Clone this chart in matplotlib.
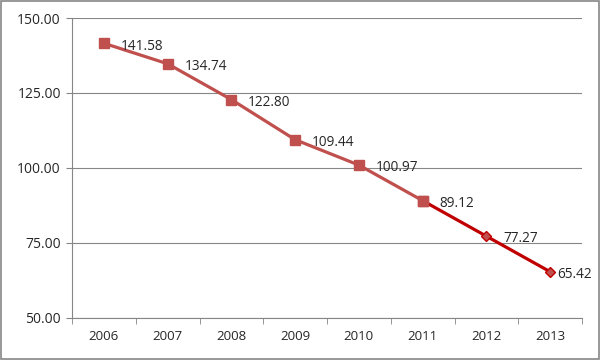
import matplotlib
matplotlib.use("Agg")
from matplotlib import pyplot as plt
from matplotlib.patches import Rectangle
import numpy as np

years = ["2006", "2007", "2008", "2009", "2010", "2011", "2012", "2013"]
values = [141.58, 134.74, 122.80, 109.44, 100.97, 89.12, 77.27, 65.42]
split = 5  # index of 2011, where the darker projection segment starts
y_ticks = [50, 75, 100, 125, 150]

plt.rcParams['font.family'] = ['Open Sans', 'DejaVu Sans']

fig = plt.figure(figsize=(6, 3.6), dpi=100)
ax = fig.add_axes([0.12, 0.1167, 0.85, 0.8333])

x = np.arange(len(years))
ax.plot(x[:split + 1], values[:split + 1], color='#C0504D', lw=2.3,
        marker='s', ms=7, zorder=3)
ax.plot(x[split:], values[split:], color='#C00000', lw=2.3, zorder=3)
ax.plot(x[split + 1:], values[split + 1:], color='#C0504D', lw=0,
        marker='D', ms=5.5, mec='#C00000', mew=1, zorder=4)
ax.plot(x[split], values[split], color='#C0504D', marker='s', ms=7, zorder=5)

for i, (xi, v) in enumerate(zip(x, values)):
    # the last label is pulled in so it fits inside the chart, as in the original
    dx = 5 if i == len(values) - 1 else 12
    ax.annotate(f"{v:.2f}", (xi, v), xytext=(dx, -2), textcoords='offset points',
                va='center', ha='left', fontsize=9.8, color='#262626',
                annotation_clip=False)

ax.set_xlim(-0.5, len(years) - 0.5)
ax.set_ylim(50, 150)
ax.set_yticks(y_ticks)
ax.set_yticklabels([f"{t:.2f}" for t in y_ticks], fontsize=10, color='#262626')
ax.set_xticks(x)
ax.set_xticklabels(years, fontsize=9.5, color='#262626')
ax.set_xticks(np.arange(-0.5, len(years)), minor=True)
ax.tick_params(axis='x', which='major', length=0, pad=9)
ax.tick_params(axis='x', which='minor', length=4, color='#868686', direction='out')
ax.tick_params(axis='y', length=4, color='#868686', direction='out', pad=4)

ax.grid(axis='y', color='#868686', lw=0.8)
ax.set_axisbelow(True)
for side in ['top', 'right']:
    ax.spines[side].set_visible(False)
for side in ['left', 'bottom']:
    ax.spines[side].set_color('#868686')
    ax.spines[side].set_linewidth(0.8)

fig.patches.append(Rectangle((0.002, 0.003), 0.996, 0.994, transform=fig.transFigure,
                             fill=False, edgecolor='#868686', lw=1.2))

fig.savefig("out.png", dpi=100)
